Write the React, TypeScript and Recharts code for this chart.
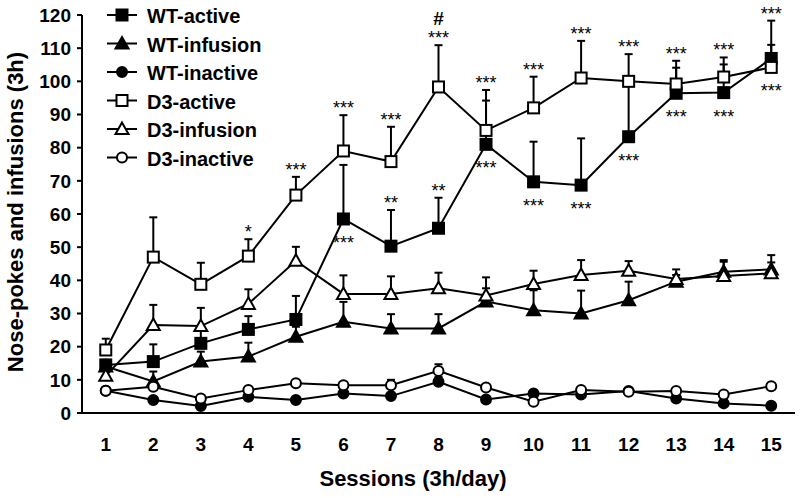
import { LineChart, Line, XAxis, YAxis, ErrorBar, Legend, LabelList, Label } from 'recharts';

const sessions = [1, 2, 3, 4, 5, 6, 7, 8, 9, 10, 11, 12, 13, 14, 15];
const yTicks = [0, 10, 20, 30, 40, 50, 60, 70, 80, 90, 100, 110, 120];

// group means
const wtActive = [14.5, 15.5, 21, 25.2, 28.2, 58.5, 50.3, 55.7, 81, 69.7, 68.7, 83.3, 96.4, 96.6, 106.9];
const wtInfusion = [14, 9.5, 15.5, 17, 23, 27.5, 25.5, 25.5, 33.6, 31, 30, 34, 39.6, 42.6, 43.3];
const wtInactive = [6.7, 3.9, 2.1, 4.9, 3.9, 5.9, 5.1, 9.4, 4.1, 5.9, 5.6, 6.6, 4.4, 2.9, 2.2];
const d3Active = [19, 47, 38.8, 47.3, 65.7, 79, 75.8, 98.3, 85.2, 92, 101, 100, 99.2, 101.3, 104.2];
const d3Infusion = [11.2, 26.5, 26.2, 32.9, 45.9, 35.9, 35.9, 37.6, 35.4, 38.9, 41.6, 42.9, 40.4, 41.3, 42.1];
const d3Inactive = [6.7, 7.9, 4.4, 6.9, 9, 8.4, 8.4, 12.7, 7.7, 3.4, 6.9, 6.4, 6.6, 5.6, 8.1];

// SEM (upper bars only)
const wtActiveErr = [1.5, 5.2, 4.5, 4, 7.1, 16.3, 10.9, 9.2, 13.2, 12.1, 14.1, 15.7, 7.7, 8.5, 4.1];
const wtInfusionErr = [1, 3, 3, 4.2, 3, 6, 4.3, 4.3, 4, 6, 6.9, 5.6, 2, 3, 2.1];
const wtInactiveErr = [0.8, 0.8, 0.8, 0.8, 0.8, 0.8, 0.8, 1.5, 0.8, 0.8, 0.8, 0.8, 0.8, 0.8, 0.8];
const d3ActiveErr = [3.4, 12, 6.5, 5.1, 5.5, 10.8, 10.5, 12.6, 12.2, 9.4, 11.2, 8.2, 7, 5.9, 14.1];
const d3InfusionErr = [1.5, 6.1, 5.5, 4.4, 4.2, 5.6, 5.3, 4.7, 5.5, 4, 4.5, 2.9, 2.9, 4.8, 5.5];
const d3InactiveErr = [0.8, 1, 0.8, 0.8, 0.8, 0.8, 1.6, 2, 0.8, 0.8, 0.8, 0.8, 0.8, 0.8, 0.8];

// significance marks
const topMarks = ['', '', '', '*', '***', '***', '***', '***', '***', '***', '***', '***', '***', '***', '***'];
const hashMarks = ['', '', '', '', '', '', '', '#', '', '', '', '', '', '', ''];
const wtUpperMarks = ['', '', '', '', '', '', '**', '**', '', '', '', '', '', '', ''];
const bottomMarks = ['', '', '', '', '', '***', '', '', '***', '***', '***', '***', '***', '***', '***'];

const FONT = '"Liberation Sans", Arial, sans-serif';

const series = [
  { key: 'wtActive', name: 'WT-active', shape: 'square', filled: true },
  { key: 'wtInfusion', name: 'WT-infusion', shape: 'triangle', filled: true },
  { key: 'wtInactive', name: 'WT-inactive', shape: 'circle', filled: true },
  { key: 'd3Active', name: 'D3-active', shape: 'square', filled: false },
  { key: 'd3Infusion', name: 'D3-infusion', shape: 'triangle', filled: false },
  { key: 'd3Inactive', name: 'D3-inactive', shape: 'circle', filled: false },
];

const data = sessions.map((s, i) => ({
  session: s,
  wtActive: wtActive[i],
  wtInfusion: wtInfusion[i],
  wtInactive: wtInactive[i],
  d3Active: d3Active[i],
  d3Infusion: d3Infusion[i],
  d3Inactive: d3Inactive[i],
  wtActiveErr: [0, wtActiveErr[i]],
  wtInfusionErr: [0, wtInfusionErr[i]],
  wtInactiveErr: [0, wtInactiveErr[i]],
  d3ActiveErr: [0, d3ActiveErr[i]],
  d3InfusionErr: [0, d3InfusionErr[i]],
  d3InactiveErr: [0, d3InactiveErr[i]],
  topAnchor: d3Active[i] + d3ActiveErr[i],
  wtTopAnchor: wtActive[i] + wtActiveErr[i],
  lowAnchor: Math.min(wtActive[i], d3Active[i]),
  topMark: topMarks[i],
  hashMark: hashMarks[i],
  wtMark: wtUpperMarks[i],
  lowMark: bottomMarks[i],
}));

function Marker({ shape, filled, cx, cy }: { shape: string; filled: boolean; cx: number; cy: number }) {
  const fill = filled ? '#000' : '#fff';
  if (shape === 'square') {
    return <rect x={cx - 5.5} y={cy - 5.5} width={11} height={11} fill={fill} stroke="#000" strokeWidth={2} />;
  }
  if (shape === 'triangle') {
    return (
      <polygon
        points={`${cx},${cy - 6.5} ${cx - 6.5},${cy + 5} ${cx + 6.5},${cy + 5}`}
        fill={fill}
        stroke="#000"
        strokeWidth={2}
        strokeLinejoin="miter"
      />
    );
  }
  return <circle cx={cx} cy={cy} r={5} fill={fill} stroke="#000" strokeWidth={2} />;
}

const makeDot = (shape: string, filled: boolean) => (props: any) => {
  const { cx, cy, index } = props;
  if (cx == null || cy == null) return <g key={index} />;
  return (
    <g key={index}>
      <Marker shape={shape} filled={filled} cx={cx} cy={cy} />
    </g>
  );
};

const markLabel = (dy: number, size: number, bold: boolean) => (props: any) => {
  const { value, index } = props;
  const x = props.x ?? props.viewBox?.x;
  const y = props.y ?? props.viewBox?.y;
  if (!value) return null;
  return (
    <text
      key={index}
      x={x}
      y={y + dy}
      textAnchor="middle"
      fontFamily={FONT}
      fontSize={size}
      fontWeight={bold ? 'bold' : 'normal'}
      fill="#000"
    >
      {value}
    </text>
  );
};

const renderLegend = () => (
  <svg width={200} height={175}>
    {series.map((s, i) => {
      const y = 15 + i * 28.5;
      return (
        <g key={s.key}>
          <line x1={7} x2={37} y1={y} y2={y} stroke="#000" strokeWidth={2} />
          <Marker shape={s.shape} filled={s.filled} cx={22} cy={y} />
          <text x={47} y={y + 8} fontFamily={FONT} fontSize={20} fontWeight="bold" fill="#000">
            {s.name}
          </text>
        </g>
      );
    })}
  </svg>
);

const tickStyle = { fontFamily: FONT, fontSize: 19, fontWeight: 'bold', fill: '#000' };

export default function App() {
  return (
    <div style={{ position: 'absolute', left: 0, top: 0, background: '#fff' }}>
      <LineChart width={800} height={498} data={data} margin={{ top: 15, right: 5, bottom: 0, left: 0 }}>
        <XAxis
          type="number"
          dataKey="session"
          domain={[0.5, 15.5]}
          ticks={sessions}
          interval={0}
          height={85}
          tickLine={false}
          tickSize={6}
          tickMargin={19}
          axisLine={{ stroke: '#000', strokeWidth: 2 }}
          tick={tickStyle}
        >
          <Label
            content={() => (
              <text x={413} y={486} textAnchor="middle" fontFamily={FONT} fontSize={22} fontWeight="bold" fill="#000">
                Sessions (3h/day)
              </text>
            )}
          />
        </XAxis>
        <YAxis
          type="number"
          domain={[0, 120]}
          ticks={yTicks}
          interval={0}
          width={82}
          tickSize={5}
          tickMargin={6}
          tickLine={{ stroke: '#000', strokeWidth: 2 }}
          axisLine={{ stroke: '#000', strokeWidth: 2 }}
          tick={tickStyle}
        >
          <Label
            content={() => (
              <text
                x={23}
                y={212}
                transform="rotate(-90 23 212)"
                textAnchor="middle"
                fontFamily={FONT}
                fontSize={22}
                fontWeight="bold"
                fill="#000"
              >
                Nose-pokes and infusions (3h)
              </text>
            )}
          />
        </YAxis>
        <Legend
          layout="vertical"
          align="center"
          verticalAlign="middle"
          content={renderLegend}
          wrapperStyle={{ left: 100, top: 0, width: 200, height: 175 }}
        />

        {series.map((s) => (
          <Line
            key={`${s.key}-err`}
            dataKey={s.key}
            stroke="none"
            dot={false}
            activeDot={false}
            legendType="none"
            isAnimationActive={false}
          >
            <ErrorBar dataKey={`${s.key}Err`} direction="y" width={4} stroke="#000" strokeWidth={2} />
          </Line>
        ))}

        {series.map((s) => (
          <Line
            key={s.key}
            dataKey={s.key}
            name={s.name}
            stroke="#000"
            strokeWidth={2}
            dot={makeDot(s.shape, s.filled)}
            activeDot={false}
            isAnimationActive={false}
          />
        ))}

        <Line dataKey="topAnchor" stroke="none" dot={false} activeDot={false} legendType="none" isAnimationActive={false}>
          <LabelList dataKey="topMark" content={markLabel(-1, 18, false)} />
          <LabelList dataKey="hashMark" content={markLabel(-20, 19, true)} />
        </Line>
        <Line dataKey="wtTopAnchor" stroke="none" dot={false} activeDot={false} legendType="none" isAnimationActive={false}>
          <LabelList dataKey="wtMark" content={markLabel(-1, 18, false)} />
        </Line>
        <Line dataKey="lowAnchor" stroke="none" dot={false} activeDot={false} legendType="none" isAnimationActive={false}>
          <LabelList dataKey="lowMark" content={markLabel(30, 18, false)} />
        </Line>
      </LineChart>
    </div>
  );
}
